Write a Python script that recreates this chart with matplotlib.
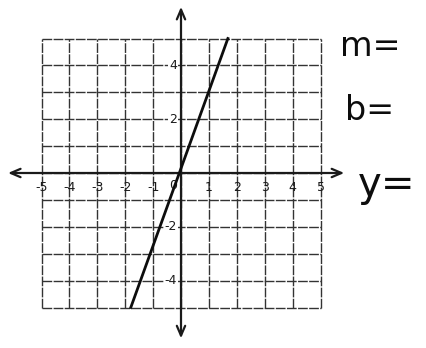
import matplotlib.pyplot as plt
import numpy as np

# grid / axis values
grid_vals = list(range(-5, 6))
x_tick_labels = ['-5', '-4', '-3', '-2', '-1', '0', '1', '2', '3', '4', '5']
y_tick_vals = [4, 2, -2, -4]
y_tick_labels = ['4', '2', '-2', '-4']

# the drawn line (y = 3x, clipped to the grid)
line_x = [-1.8, 1.68]
line_y = [-5, 5]

# handwritten prompts on the right
prompts = ['m=', 'b=', 'y=']

fig = plt.figure(figsize=(4.26, 3.48), dpi=100)
ax = fig.add_axes([0, 0, 1, 1])
ax.set_xlim(-181 / 27.9, (426 - 181) / 27.9)
ax.set_ylim(-(348 - 173) / 26.9, 173 / 26.9)
ax.axis('off')

# grid (photocopied look: nearly solid, broken dashes)
for v in grid_vals:
    ax.plot([v, v], [-5, 5], color='0.2', lw=1.0, ls=(0, (7, 1)), zorder=1)
    ax.plot([-5, 5], [v, v], color='0.2', lw=1.0, ls=(0, (7, 1)), zorder=1)

# axes with arrows
ax.annotate('', xy=(5.95, 0), xytext=(-6.3, 0),
            arrowprops=dict(arrowstyle='<->,head_length=0.7,head_width=0.3', lw=1.6, color='0.1'), zorder=3)
ax.annotate('', xy=(0, 6.28), xytext=(0, -6.25),
            arrowprops=dict(arrowstyle='<->,head_length=0.7,head_width=0.3', lw=1.6, color='0.1'), zorder=3)

# tick labels
for v, lab in zip(grid_vals, x_tick_labels):
    if v == 0:
        ax.text(-0.3, -0.45, lab, ha='center', va='center', fontsize=9, color='0.1', zorder=4)
    else:
        ax.text(v, -0.55, lab, ha='center', va='center', fontsize=9, color='0.1', zorder=4)
for v, lab in zip(y_tick_vals, y_tick_labels):
    ax.text(-0.15, v, lab, ha='right', va='center', fontsize=9, color='0.1', zorder=4,
            bbox=dict(facecolor='white', edgecolor='none', pad=0.5))

# the line
ax.plot(line_x, line_y, color='0.05', lw=2.0, zorder=5)

# handwritten text
fig.text(340 / 426, 1 - 56 / 348, prompts[0], fontsize=24, color='0.05', ha='left', va='baseline')
fig.text(345 / 426, 1 - 120 / 348, prompts[1], fontsize=24, color='0.05', ha='left', va='baseline')
fig.text(358 / 426, 1 - 196 / 348, prompts[2], fontsize=29, color='0.05', ha='left', va='baseline')

fig.savefig('out.png', dpi=100)
